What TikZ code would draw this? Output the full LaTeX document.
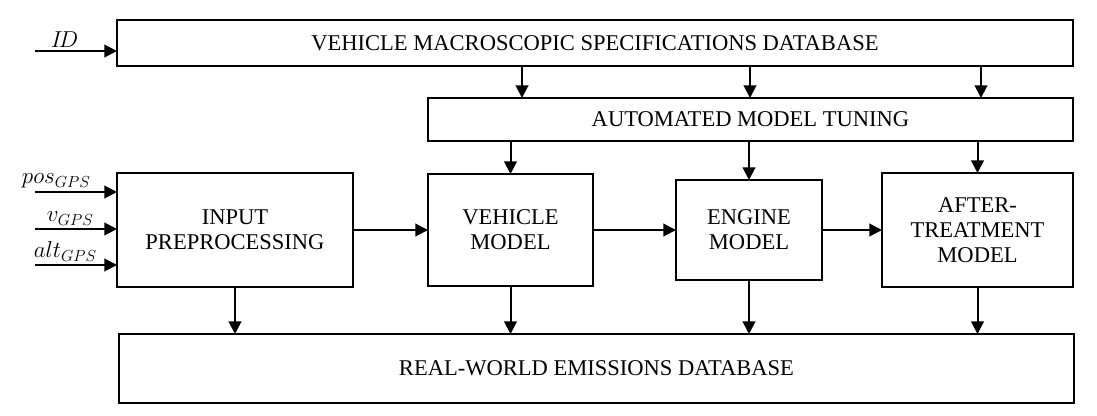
\documentclass[tikz,border=0pt]{standalone}
\usepackage{fontspec}
\setmainfont{Liberation Serif}
\usetikzlibrary{positioning,arrows.meta,calc}

\tikzset{
	box/.style={draw, line width=1pt, inner sep=2pt, outer sep=0pt, align=center, font=\fontsize{16.9}{18.75}\selectfont},
	arr/.style={-{Triangle[length=9.5pt,width=9.5pt]}, line width=1.5pt},
	lbl/.style={above, inner sep=2pt, font=\fontsize{17}{18.75}\selectfont},
}

\begin{document}
\begin{tikzpicture}[x=0.75pt, y=-0.75pt]
	\useasboundingbox (0,0) rectangle (1097,415);
	
	% databases and tuning
	\node [box, minimum width=717pt, minimum height=34.5pt] (specdb) at (595,43) {VEHICLE MACROSCOPIC SPECIFICATIONS DATABASE};
	\node [box, minimum width=483.75pt, minimum height=32.25pt] (tuning) [below left=24pt and 0pt of specdb.south east] {AUTOMATED MODEL TUNING};
	\node [box, minimum width=716.25pt, minimum height=51.75pt] (emdb) at (596.5,368.5) {REAL-WORLD EMISSIONS DATABASE};
	
	% model chain
	\node [box, minimum width=177pt, minimum height=85.5pt] (inproc) at (235,230) {INPUT\\PREPROCESSING};
	\node [box, minimum width=123.75pt, minimum height=84pt] (vehicle) [right=56.25pt of inproc] {VEHICLE\\MODEL};
	\node [box, minimum width=109.5pt, minimum height=75pt] (engine) [right=62.25pt of vehicle] {ENGINE\\MODEL};
	\node [box, minimum width=143.25pt, minimum height=85.5pt] (after) [right=45pt of engine] {AFTER-\\TREATMENT\\MODEL};
	
	% inputs
	\coordinate (inid) at (35,51);
	\coordinate (inpos) at (35,192);
	\coordinate (inv) at (35,229);
	\coordinate (inalt) at (35,265);
	
	\draw [arr] (inid) -- (inid -| specdb.west) node [lbl, pos=0.36] {$I\!D$};
	\draw [arr] (inpos) -- (inpos -| inproc.west) node [lbl, pos=0.26] {$pos_{GPS}$};
	\draw [arr] (inv) -- (inv -| inproc.west) node [lbl, pos=0.43] {$v_{GPS}$};
	\draw [arr] (inalt) -- (inalt -| inproc.west) node [lbl, pos=0.37] {$alt_{GPS}$};
	
	% specifications to tuning
	\path (522,0 |- specdb.south) edge [arr] (522,0 |- tuning.north);
	\path (750,0 |- specdb.south) edge [arr] (750,0 |- tuning.north);
	\path (981,0 |- specdb.south) edge [arr] (981,0 |- tuning.north);
	
	% tuning to models
	\path (vehicle.north |- tuning.south) edge [arr] (vehicle.north);
	\path (engine.north |- tuning.south) edge [arr] (engine.north);
	\path (after.north |- tuning.south) edge [arr] (after.north);
	
	% chain
	\path (inproc.east) edge [arr] (vehicle.west);
	\path (vehicle.east) edge [arr] (engine.west);
	\path (engine.east) edge [arr] (after.west);
	
	% outputs
	\path (inproc.south) edge [arr] (inproc.south |- emdb.north);
	\path (vehicle.south) edge [arr] (vehicle.south |- emdb.north);
	\path (engine.south) edge [arr] (engine.south |- emdb.north);
	\path (after.south) edge [arr] (after.south |- emdb.north);
\end{tikzpicture}
\end{document}
